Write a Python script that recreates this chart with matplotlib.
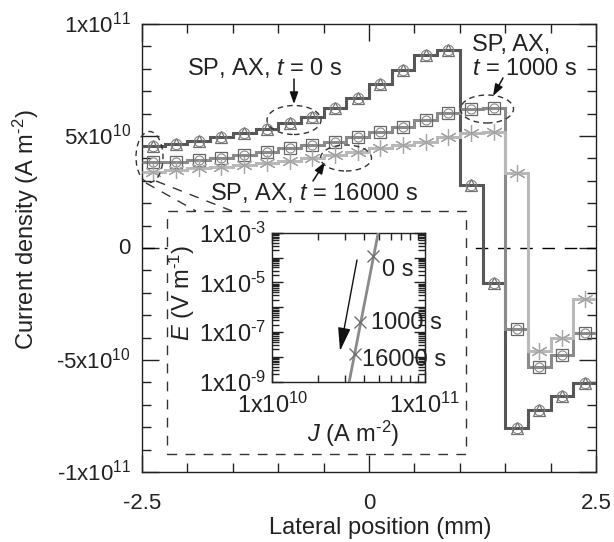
import numpy as np
import matplotlib
matplotlib.use("Agg")
import matplotlib.pyplot as plt
from matplotlib.patches import Ellipse, Rectangle, FancyArrowPatch
from matplotlib.transforms import ScaledTranslation
from matplotlib.ticker import FixedLocator, MultipleLocator, LogLocator, NullFormatter

plt.rcParams['font.family'] = ['Liberation Sans', 'DejaVu Sans']
plt.rcParams['mathtext.fontset'] = 'custom'
plt.rcParams['mathtext.rm'] = 'Liberation Sans'
plt.rcParams['mathtext.it'] = 'Liberation Sans:italic'
plt.rcParams['mathtext.bf'] = 'Liberation Sans:bold'

# ---------------- data ----------------
bin_edges_mm = np.linspace(-2.5, 2.5, 21)          # 20 lateral bins, 0.25 mm wide
bin_centers_mm = 0.5 * (bin_edges_mm[:-1] + bin_edges_mm[1:])

# current density (units of 1e10 A/m^2)
j_t0 = [4.57, 4.63, 4.78, 4.94, 5.12, 5.33, 5.56, 5.83, 6.26, 6.68,
        7.31, 7.95, 8.62, 8.84, 2.81, -1.58, -8.05, -7.23, -6.61, -6.01]
j_t1000 = [3.83, 3.86, 3.93, 4.03, 4.15, 4.30, 4.45, 4.60, 4.75, 4.97,
           5.17, 5.42, 5.71, 6.01, 6.21, 6.26, -3.63, -5.30, -4.78, -3.78]
j_t16000 = [3.41, 3.48, 3.56, 3.63, 3.71, 3.81, 3.90, 4.00, 4.15, 4.30,
            4.45, 4.60, 4.75, 4.97, 5.12, 5.16, 3.36, -4.58, -4.03, -2.28]

y_ticks = [-1e11, -5e10, 0, 5e10, 1e11]
y_tick_labels = ['-1x10$^{11}$', '-5x10$^{10}$', '0', '5x10$^{10}$', '1x10$^{11}$']
x_ticks = [-2.5, 0, 2.5]
x_tick_labels = ['-2.5', '0', '2.5']

# inset: E-J curve
inset_line_J = [3.19e10, 4.94e10]
inset_line_E = [1e-9, 1e-3]
inset_pts_J = [4.54e10, 3.75e10, 3.48e10]
inset_pts_E = [1.15e-4, 2.5e-7, 1.3e-8]
inset_pt_labels = ['0 s', '1000 s', '16000 s']
inset_y_ticks = [1e-9, 1e-8, 1e-7, 1e-6, 1e-5, 1e-4, 1e-3]
inset_y_labels = ['1x10$^{\\text{-}9}$', '', '1x10$^{\\text{-}7}$', '', '1x10$^{\\text{-}5}$', '', '1x10$^{\\text{-}3}$']
inset_x_ticks = [1e10, 1e11]
inset_x_labels = ['1x10$^{10}$', '1x10$^{11}$']

# ---------------- figure ----------------
W, H = 614, 542
fig = plt.figure(figsize=(W / 100, H / 100), dpi=100)
ax = fig.add_axes([142 / W, 1 - 472 / H, 454 / W, 448 / H])

def P(x, y):
    """reference pixel (top-left origin) -> figure pixels"""
    return (x, H - y)

def D(x, y):
    """reference pixel -> main-axes data coords"""
    return (-2.5 + (x - 142) / 90.8, (248 - y) / 22.4 * 1e10)

c_dark, c_mid, c_light = '#575757', '#8a8a8a', '#b9b9b9'
scale = 1e10

ax.stairs(np.array(j_t0) * scale, bin_edges_mm, color=c_dark, lw=2.2, baseline=None, zorder=3)
ax.stairs(np.array(j_t1000) * scale, bin_edges_mm, color=c_mid, lw=2.2, baseline=None, zorder=3)
ax.stairs(np.array(j_t16000) * scale, bin_edges_mm, color=c_light, lw=2.2, baseline=None, zorder=3)

mk = dict(linestyle='none', markerfacecolor='none', zorder=4)
ax.plot(bin_centers_mm, np.array(j_t0) * scale, marker='^', ms=9, mec='#707070', mew=0.9, **mk)
ax.plot(bin_centers_mm, np.array(j_t0) * scale, marker='o', ms=7.5, mec='#808080', mew=0.8, **mk)
ax.plot(bin_centers_mm, np.array(j_t1000) * scale, marker='s', ms=9, mec='#666666', mew=0.9, **mk)
ax.plot(bin_centers_mm, np.array(j_t1000) * scale, marker='o', ms=6.5, mec='#888888', mew=0.8, **mk)
ax.plot(bin_centers_mm, np.array(j_t16000) * scale, marker=(6, 2, 0), ms=12, mec='#a5a5a5', mew=0.9, **mk)

ax.axhline(0, color='black', lw=1.0, dashes=(9, 7), zorder=2)

ax.set_xlim(-2.5, 2.5)
ax.set_ylim(-1e11, 1e11)
ax.xaxis.set_major_locator(FixedLocator(x_ticks))
ax.set_xticklabels(x_tick_labels)
ax.xaxis.set_minor_locator(MultipleLocator(0.5))
ax.yaxis.set_major_locator(FixedLocator(y_ticks))
ax.set_yticklabels(y_tick_labels)
ax.yaxis.set_minor_locator(MultipleLocator(1e10))
ax.tick_params(which='both', direction='in', top=True, right=True, labelsize=16, width=1.0, colors='#222222')
ax.tick_params(which='major', length=12)
ax.tick_params(which='minor', length=6.5)
ax.tick_params(axis='x', pad=15)
ax.tick_params(axis='y', pad=8)
for sp in ax.spines.values():
    sp.set_linewidth(1.0)
    sp.set_color('#222222')
for lab in ax.get_yticklabels():
    lab.set_transform(lab.get_transform() + ScaledTranslation(0, 2 / 100, fig.dpi_scale_trans))

ax.set_xlabel('Lateral position (mm)', fontsize=17, color='#222222')
ax.set_ylabel('Current density (A m$^{\\text{-}2}$)', fontsize=17, color='#222222')
ax.xaxis.set_label_coords(0.524, -0.100)
ax.yaxis.set_label_coords(-0.222, 0.54)

# ---------------- annotations ----------------
tc = '#222222'
ann_fs = 17
fig.text(*P(265, 68), 'SP, AX, $t$ = 0 s', transform=None, fontsize=ann_fs, ha='center', va='center', color=tc)
fig.text(*P(472, 45), 'SP, AX,', transform=None, fontsize=ann_fs, ha='left', va='center', color=tc)
fig.text(*P(472, 69), '$t$ = 1000 s', transform=None, fontsize=ann_fs, ha='left', va='center', color=tc)
fig.text(*P(210, 193), 'SP, AX, $t$ = 16000 s', transform=None, fontsize=ann_fs, ha='left', va='center', color=tc)

arrow_kw = dict(arrowstyle='-|>,head_length=0.7,head_width=0.25', color='#111111', lw=1.1, shrinkA=0, shrinkB=0)
for (x0, y0, x1, y1) in [(294, 79, 294, 104), (503, 78, 493, 96), (313, 181, 325, 162)]:
    ax.annotate('', xy=D(x1, y1), xytext=D(x0, y0), xycoords='data', textcoords='data',
                arrowprops=arrow_kw, annotation_clip=False)

ell_kw = dict(fill=False, ec='#333333', lw=1.0, linestyle=(0, (4, 3)), clip_on=False, zorder=5)
for (cx, cy, w, h) in [(294, 120, 54, 29), (487, 109, 53, 28), (346, 158, 51, 26), (149.5, 157, 27, 51)]:
    ctr = D(cx, cy)
    ax.add_patch(Ellipse(ctr, w / 90.8, h / 22.4 * 1e10, **ell_kw))

# inset box (white, hides the zero line) and connector lines
bx0, by0 = D(167, 454)
bx1, by1 = D(466, 211)
ax.add_patch(Rectangle((bx0, by0), bx1 - bx0, by1 - by0, fill=True, fc='white', ec='#333333', lw=1.0,
                       linestyle=(0, (7, 6)), zorder=2.5, clip_on=False))
for (x0, y0, x1, y1) in [(146, 183, 196, 211), (156, 181, 232, 211)]:
    p0, p1 = D(x0, y0), D(x1, y1)
    ax.plot([p0[0], p1[0]], [p0[1], p1[1]], color='#333333', lw=1.0, linestyle=(0, (7, 6)), zorder=5)

# ---------------- inset ----------------
ins = fig.add_axes([272.3 / W, 1 - 381.7 / H, 152.7 / W, 149 / H])
ins.set_xscale('log')
ins.set_yscale('log')
ins.plot(inset_line_J, inset_line_E, color=c_mid, lw=2.0, zorder=3)
ins.plot(inset_pts_J, inset_pts_E, linestyle='none', marker='x', ms=8, mec='#707070', mew=1.0, zorder=4)
ins.set_xlim(1e10, 1e11)
ins.set_ylim(1e-9, 1e-3)
ins.xaxis.set_major_locator(FixedLocator(inset_x_ticks))
ins.set_xticklabels(inset_x_labels)
ins.xaxis.set_minor_locator(LogLocator(base=10, subs=np.arange(2, 10)))
ins.xaxis.set_minor_formatter(NullFormatter())
ins.yaxis.set_major_locator(FixedLocator(inset_y_ticks))
ins.set_yticklabels(inset_y_labels)
ins.yaxis.set_minor_locator(LogLocator(base=10, subs=np.arange(2, 10), numticks=20))
ins.yaxis.set_minor_formatter(NullFormatter())
ins.tick_params(which='both', direction='in', top=True, right=True, labelsize=17, width=1.0, colors='#222222')
ins.tick_params(which='major', length=8)
ins.tick_params(which='minor', length=5)
ins.tick_params(axis='x', pad=8)
ins.tick_params(axis='y', pad=4)
for sp in ins.spines.values():
    sp.set_linewidth(1.0)
    sp.set_color('#222222')

for lab, (px, py) in zip(inset_pt_labels, [(381.7, 270), (370.7, 323), (361.7, 360)]):
    fig.text(*P(px, py), lab, transform=None, fontsize=17, ha='left', va='center', color=tc)

fig.text(*P(182, 293), '$E$ (V m$^{\\text{-}1}$)', transform=None, fontsize=17, rotation=90,
         ha='center', va='center', color=tc)
fig.text(*P(353, 434), '$J$ (A m$^{\\text{-}2}$)', transform=None, fontsize=17, ha='center', va='center', color=tc)

fig.add_artist(FancyArrowPatch(P(357, 260), P(340, 351), transform=None,
                               arrowstyle='-|>,head_length=1.3,head_width=0.35', mutation_scale=11,
                               color='#111111', lw=1.0, shrinkA=0, shrinkB=0))

fig.savefig('out.png', dpi=100)
